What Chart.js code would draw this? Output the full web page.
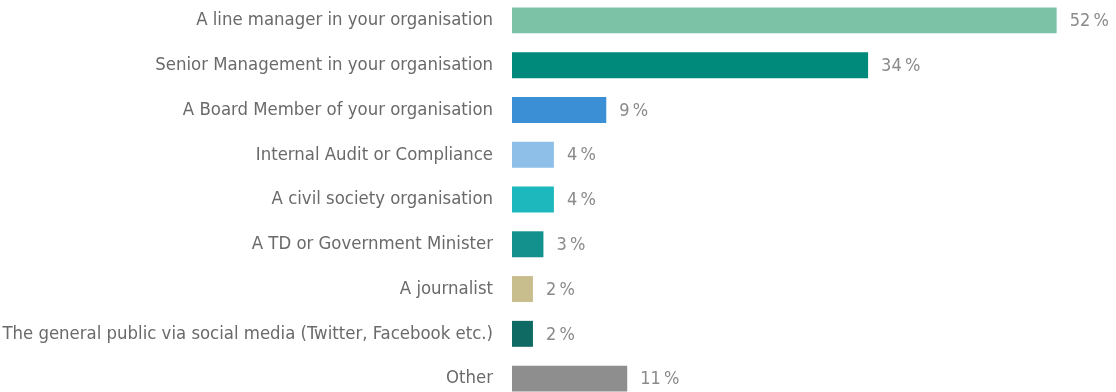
<!DOCTYPE html>
<html>
<head>
<meta charset="utf-8">
<script src="https://cdn.jsdelivr.net/npm/chart.js@4"></script>
<style>
  html, body { margin: 0; padding: 0; background: #fff; overflow: hidden; }
  #wrap { position: absolute; left: 0; top: -2px; width: 1116px; height: 403px; }
</style>
</head>
<body>
<div id="wrap"><canvas id="reportChart"></canvas></div>
<script>
// Categorías y porcentajes
const categories = [
    'A line manager in your organisation',
    'Senior Management in your organisation',
    'A Board Member of your organisation',
    'Internal Audit or Compliance',
    'A civil society organisation',
    'A TD or Government Minister',
    'A journalist',
    'The general public via social media (Twitter, Facebook etc.)',
    'Other'
];
const percentages = [52, 34, 9, 4, 4, 3, 2, 2, 11];
const barColors = ['#7bc2a6', '#008a7c', '#3b8fd5', '#8ebfe8', '#1db8be', '#12918d', '#c7bd8d', '#0e6a62', '#8e8e8e'];

const FONT_FAMILY = '"Liberation Sans Narrow", "DejaVu Sans Condensed", "Liberation Sans", sans-serif';

// Etiquetas de valor a la derecha de cada barra
const valueLabels = {
    id: 'valueLabels',
    afterDatasetsDraw(chart) {
        const ctx = chart.ctx;
        const meta = chart.getDatasetMeta(0);
        ctx.save();
        ctx.font = '18px ' + FONT_FAMILY;
        ctx.fillStyle = '#8a8a8a';
        ctx.textAlign = 'left';
        ctx.textBaseline = 'middle';
        meta.data.forEach((bar, i) => {
            ctx.fillText(percentages[i] + '\u2009%', bar.x + 13, bar.y + 1);
        });
        ctx.restore();
    }
};

const ctx = document.getElementById('reportChart').getContext('2d');
new Chart(ctx, {
    type: 'bar',
    data: {
        labels: categories,
        datasets: [{
            data: percentages,
            backgroundColor: barColors,
            borderWidth: 0,
            barPercentage: 0.58,
            categoryPercentage: 1
        }]
    },
    options: {
        indexAxis: 'y',
        responsive: true,
        maintainAspectRatio: false,
        animation: false,
        layout: { padding: { left: 0, right: 7, top: 0, bottom: 0 } },
        plugins: {
            legend: { display: false },
            tooltip: { enabled: false }
        },
        scales: {
            x: {
                display: false,
                min: 0,
                max: 57
            },
            y: {
                grid: { display: false, drawTicks: false },
                border: { display: false },
                ticks: {
                    padding: 19,
                    color: '#6a6a6a',
                    font: { family: FONT_FAMILY, size: 18.4 }
                },
                afterFit(scale) {
                    // ancho fijo del eje y sin relleno vertical
                    scale.width = 512;
                    scale.paddingTop = 0;
                    scale.paddingBottom = 0;
                }
            }
        }
    },
    plugins: [valueLabels]
});
</script>
</body>
</html>
